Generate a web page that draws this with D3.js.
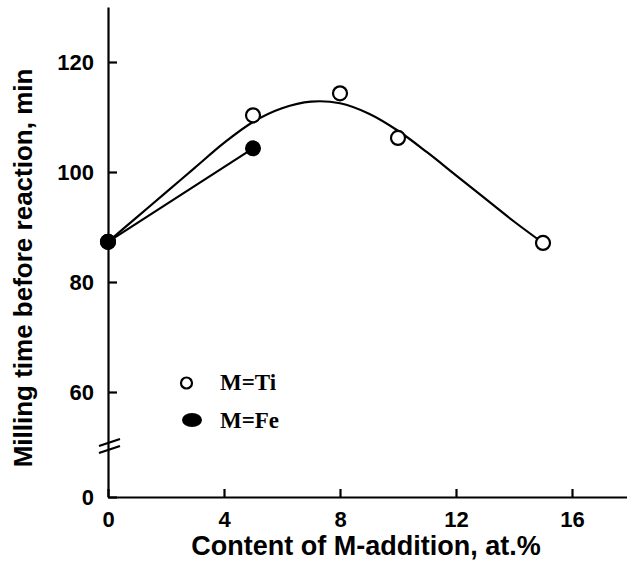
<!DOCTYPE html>
<html>
<head>
<meta charset="utf-8">
<script src="https://cdn.jsdelivr.net/npm/d3@7/dist/d3.min.js"></script>
<style>
body { margin: 0; background: #fff; }
</style>
</head>
<body>
<svg width="627" height="574"></svg>
<script>
// M=Ti measured points
var tiX = [0, 5, 8, 10, 15];
var tiY = [87.3, 110.3, 114.3, 106.2, 87.1];
// M=Fe measured points
var feX = [0, 5];
var feY = [87.3, 104.3];
// smooth guide curve through the Ti data
var fitX = [0, 1, 2, 3, 4, 5, 6, 7, 8, 9, 10, 11, 12, 13, 14, 15];
var fitY = [87.3, 91.8, 96.3, 100.8, 105.3, 109.1, 111.6, 112.8, 112.5, 110.6, 107.5, 103.6, 99.4, 95.2, 91.0, 87.1];

var xTicks = [0, 4, 8, 12, 16];
var yTicks = [0, 60, 80, 100, 120];

var svg = d3.select("svg");
svg.append("rect").attr("width", 627).attr("height", 574).attr("fill", "#fff");

var x = d3.scaleLinear().domain([0, 18]).range([108, 630]);
// broken axis: 0..50 squeezed, 50..130 normal
var y = d3.scaleLinear().domain([0, 50, 130]).range([497, 447, 7]);

function styleAxis(g){
	g.attr("font-size", 22).attr("font-family", "'Liberation Sans', Arial, sans-serif");
	g.selectAll("path, line").attr("stroke", "#000").attr("stroke-width", 2.2);
	g.selectAll("text")
		.attr("fill", "#000")
		.attr("font-weight", "bold")
		.style("font-size", "22px");
}

svg.append("g")
	.attr("transform", "translate(0,497)")
	.call(d3.axisBottom(x).tickValues(xTicks).tickSize(-8).tickSizeOuter(0).tickPadding(14))
	.call(styleAxis);

svg.append("g")
	.attr("transform", "translate(108,0)")
	.call(d3.axisLeft(y).tickValues(yTicks).tickSize(-9).tickSizeOuter(0).tickPadding(14))
	.call(styleAxis);

// break marks on the y axis
[0, 7].forEach(function(off){
	svg.append("line")
		.attr("x1", 99).attr("y1", y(50) - 1 + off)
		.attr("x2", 120).attr("y2", y(50) - 8 + off)
		.attr("stroke", "#000").attr("stroke-width", 2.2);
});

var fitData = fitX.map(function(v, i){ return {x: v, y: fitY[i]}; });
var tiData = tiX.map(function(v, i){ return {x: v, y: tiY[i]}; });
var feData = feX.map(function(v, i){ return {x: v, y: feY[i]}; });

var line = d3.line()
	.x(function(d){ return x(d.x); })
	.y(function(d){ return y(d.y); });

svg.append("path")
	.datum(fitData)
	.attr("fill", "none").attr("stroke", "#000").attr("stroke-width", 2.2)
	.attr("d", line.curve(d3.curveCatmullRom.alpha(0.5)));

svg.append("path")
	.datum(feData)
	.attr("fill", "none").attr("stroke", "#000").attr("stroke-width", 2.2)
	.attr("d", d3.line().x(function(d){ return x(d.x); }).y(function(d){ return y(d.y); }));

svg.selectAll(".ti").data(tiData).enter().append("circle")
	.attr("class", "ti")
	.attr("cx", function(d){ return x(d.x); })
	.attr("cy", function(d){ return y(d.y); })
	.attr("r", 7)
	.attr("fill", "#fff").attr("stroke", "#000").attr("stroke-width", 2.2);

svg.selectAll(".fe").data(feData).enter().append("circle")
	.attr("class", "fe")
	.attr("cx", function(d){ return x(d.x); })
	.attr("cy", function(d){ return y(d.y); })
	.attr("r", 8)
	.attr("fill", "#000");

// legend
svg.append("circle").attr("cx", 186.5).attr("cy", 383).attr("r", 5.5)
	.attr("fill", "#fff").attr("stroke", "#000").attr("stroke-width", 2.2);
svg.append("ellipse").attr("cx", 192).attr("cy", 420).attr("rx", 10).attr("ry", 7)
	.attr("fill", "#000");
svg.append("text").attr("x", 220).attr("y", 390)
	.style("font-family", "'Liberation Serif', 'Times New Roman', serif")
	.style("font-weight", "bold").style("font-size", "23px")
	.text("M=Ti");
svg.append("text").attr("x", 220).attr("y", 428)
	.style("font-family", "'Liberation Serif', 'Times New Roman', serif")
	.style("font-weight", "bold").style("font-size", "23px")
	.text("M=Fe");

// axis titles
svg.append("text")
	.attr("x", 366).attr("y", 555)
	.attr("text-anchor", "middle")
	.style("font-family", "'Liberation Sans', Arial, sans-serif")
	.style("font-weight", "bold").style("font-size", "27px")
	.text("Content of M-addition, at.%");

svg.append("text")
	.attr("transform", "translate(32,268) rotate(-90)")
	.attr("text-anchor", "middle")
	.style("font-family", "'Liberation Sans', Arial, sans-serif")
	.style("font-weight", "bold").style("font-size", "26px")
	.text("Milling time before reaction, min");
</script>
</body>
</html>
